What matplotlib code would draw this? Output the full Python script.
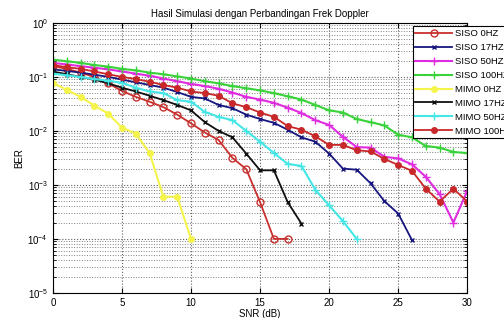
import numpy as np
import matplotlib
matplotlib.use("Agg")
import matplotlib.pyplot as plt

plt.rcParams['font.family'] = ['Liberation Sans', 'DejaVu Sans']

# SNR (dB) dan nilai BER hasil simulasi
snr = list(range(0, 31))

siso_0hz = [0.158, 0.141, 0.120, 0.100, 0.0759, 0.055, 0.0427, 0.0347, 0.0275, 0.020,
            0.0138, 0.00933, 0.00676, 0.00316, 0.00195, 0.000479, 1e-4, 1e-4]
siso_17hz = [0.138, 0.129, 0.120, 0.110, 0.100, 0.0891, 0.0794, 0.0708, 0.0631, 0.0525,
             0.0427, 0.0398, 0.0302, 0.0263, 0.020, 0.0166, 0.0141, 0.0105, 0.00759, 0.00631,
             0.0038, 0.0020, 0.00191, 0.00107, 0.000501, 0.000295, 9.5e-5]
siso_50hz = [0.182, 0.170, 0.158, 0.148, 0.138, 0.126, 0.115, 0.105, 0.0933, 0.0832,
             0.0741, 0.0676, 0.0603, 0.0513, 0.0427, 0.0380, 0.0331, 0.0269, 0.0214, 0.0158,
             0.0129, 0.00776, 0.00501, 0.0049, 0.00331, 0.00309, 0.0024, 0.00141, 0.000676,
             0.0002, 0.000776]
siso_100hz = [0.209, 0.195, 0.182, 0.166, 0.155, 0.141, 0.132, 0.120, 0.112, 0.102,
              0.0933, 0.0832, 0.0759, 0.0676, 0.0617, 0.0562, 0.0501, 0.0437, 0.0380, 0.0302,
              0.0240, 0.0219, 0.0166, 0.0145, 0.0126, 0.00851, 0.00759, 0.00525, 0.0049,
              0.00407, 0.00389]
mimo_0hz = [0.0776, 0.0575, 0.0427, 0.0295, 0.0209, 0.0115, 0.00891, 0.00389, 0.000603,
            0.000603, 1e-4]
mimo_17hz = [0.126, 0.112, 0.100, 0.0891, 0.0759, 0.0631, 0.0537, 0.0447, 0.0372, 0.0302,
             0.024, 0.0145, 0.010, 0.00759, 0.0038, 0.00186, 0.00186, 0.000479, 0.000191]
mimo_50hz = [0.115, 0.107, 0.100, 0.0912, 0.0851, 0.0776, 0.0631, 0.0537, 0.0501, 0.0372,
             0.0347, 0.0224, 0.0182, 0.0158, 0.010, 0.00631, 0.00389, 0.00245, 0.00224,
             0.000813, 0.000417, 0.000214, 1e-4]
mimo_100hz = [0.166, 0.151, 0.141, 0.126, 0.112, 0.100, 0.0912, 0.0813, 0.0708, 0.0631,
              0.0537, 0.0501, 0.0447, 0.0324, 0.0275, 0.0219, 0.0182, 0.0123, 0.0105, 0.00794,
              0.0055, 0.0055, 0.00437, 0.00417, 0.00302, 0.00234, 0.00182, 0.000851, 0.00049,
              0.000851, 0.00049]

labels = ['SISO 0HZ', 'SISO 17HZ', 'SISO 50HZ', 'SISO 100HZ',
          'MIMO 0HZ', 'MIMO 17HZ', 'MIMO 50HZ', 'MIMO 100HZ']
series = [siso_0hz, siso_17hz, siso_50hz, siso_100hz,
          mimo_0hz, mimo_17hz, mimo_50hz, mimo_100hz]

# gaya garis seperti matlab
styles = [
    dict(color='#c8302e', marker='o', mfc='none', ms=5, lw=1.3),
    dict(color='#16167e', marker='x', ms=3.5, lw=1.3),
    dict(color='#e02ce0', marker='+', ms=6, lw=1.5),
    dict(color='#3ad23a', marker='+', ms=6, lw=1.5),
    dict(color='#f4f44a', marker='o', ms=4, lw=1.5),
    dict(color='#101010', marker='x', ms=3.5, lw=1.3),
    dict(color='#44e6e6', marker='+', ms=6, lw=1.5),
    dict(color='#c8282a', marker='o', ms=4, lw=1.3),
]

fig = plt.figure(figsize=(5.04, 3.18), dpi=100)
ax = fig.add_axes([0.105, 0.079, 0.822, 0.849])

for vals, lab, st in zip(series, labels, styles):
    ax.semilogy(snr[:len(vals)], vals, label=lab, mew=1.0, **st)

ax.set_xlim(0, 30)
ax.set_ylim(1e-5, 1)
ax.set_xticks(np.arange(0, 31, 5))
ax.grid(True, which='major', linestyle=':', color='#606060', linewidth=0.8)
ax.grid(True, which='minor', axis='y', linestyle=':', color='#808080', linewidth=0.7)
ax.tick_params(labelsize=7, direction='in', which='both', top=True, right=True)
for s in ax.spines.values():
    s.set_linewidth(0.8)

ax.set_title('Hasil Simulasi dengan Perbandingan Frek Doppler', fontsize=7, pad=4)
ax.set_xlabel('SNR (dB)', fontsize=7, labelpad=1)
ax.set_ylabel('BER', fontsize=7, labelpad=2)

leg = ax.legend(loc='upper left', bbox_to_anchor=(0.868, 0.987), fontsize=6.8,
                handlelength=3.9, labelspacing=0.52, borderpad=0.3, borderaxespad=0,
                handletextpad=0.3, fancybox=False, framealpha=1, edgecolor='black')
leg.get_frame().set_linewidth(0.8)

fig.savefig('out.png', dpi=100)
